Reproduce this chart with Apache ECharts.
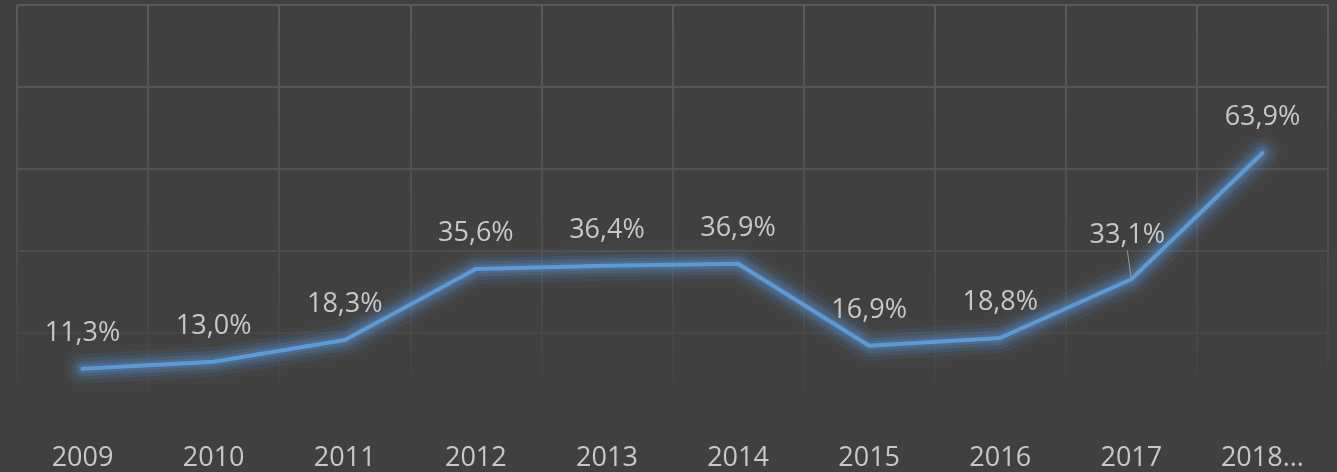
<!DOCTYPE html>
<html lang="en">
<head>
    <meta charset="UTF-8">
    <title>Chart</title>
    <script src="https://cdn.jsdelivr.net/npm/echarts@6/dist/echarts.min.js"></script>
    <style>
        html, body { margin: 0; padding: 0; background: #404040; }
        #chartmain { width: 1337px; height: 472px; }
    </style>
</head>
<body>
<div id="chartmain"></div>
<script type="text/javascript">
    // categories and values
    var years = ['2009', '2010', '2011', '2012', '2013', '2014', '2015', '2016', '2017', '2018...'];
    var shares = [11.3, 13.0, 18.3, 35.6, 36.4, 36.9, 16.9, 18.8, 33.1, 63.9];
    var yTicks = [0, 20, 40, 60, 80, 100];
    var movedLabel = 8; // 33,1% sits a bit off its point, with a leader line

    var myChart = echarts.init(document.getElementById('chartmain'));

    // grid lines fade out toward the bottom of the plot
    var fade = new echarts.graphic.LinearGradient(0, 5, 0, 415, [
        {offset: 0, color: '#5a5a5a'},
        {offset: 0.6, color: '#4c4c4c'},
        {offset: 1, color: '#404040'}
    ], true);

    var seriesData = shares.map(function (v, i) {
        if (i === movedLabel) {
            return {value: v, labelLine: {show: true}};
        }
        return v;
    });

    // glow: a few wide, faint strokes under the line
    var glowLayers = [[30, 0.09], [22, 0.12], [15, 0.15], [9, 0.2]];
    var series = glowLayers.map(function (g) {
        return {
            type: 'line',
            data: shares,
            silent: true,
            symbol: 'none',
            lineStyle: {
                color: 'rgba(91,155,213,' + g[1] + ')',
                width: g[0],
                cap: 'round',
                join: 'round',
                shadowColor: 'rgba(91,155,213,' + g[1] + ')',
                shadowBlur: 8
            },
            z: 1
        };
    });

    series.push({
        type: 'line',
        data: seriesData,
        symbol: 'circle',
        symbolSize: 1,
        lineStyle: {
            color: '#5b9bd5',
            width: 4,
            cap: 'round'
        },
        itemStyle: {color: '#5b9bd5'},
        label: {
            show: true,
            position: 'top',
            distance: 20,
            color: '#c8c8c8',
            fontSize: 27,
            lineHeight: 30,
            formatter: function (p) {
                return p.value.toFixed(1).replace('.', ',') + '%';
            }
        },
        labelLine: {show: false, length2: 0, lineStyle: {color: '#9a9a9a', width: 1}},
        labelLayout: function (params) {
            if (params.dataIndex === movedLabel) {
                return {dx: -4, dy: -8};
            }
            return {};
        },
        z: 2
    });

    var option = {
        backgroundColor: '#404040',
        animation: false,
        textStyle: {fontFamily: 'Open Sans'},
        grid: {left: 17, right: 9, top: 5, bottom: 57},
        xAxis: {
            type: 'category',
            data: years,
            boundaryGap: true,
            axisLine: {show: false},
            axisTick: {show: false},
            axisLabel: {color: '#c8c8c8', fontSize: 27, margin: 30, interval: 0},
            splitLine: {show: true, lineStyle: {color: fade, width: 2}}
        },
        yAxis: {
            type: 'value',
            min: yTicks[0],
            max: yTicks[yTicks.length - 1],
            interval: 20,
            axisLabel: {show: false},
            axisLine: {show: false},
            axisTick: {show: false},
            splitLine: {lineStyle: {color: fade, width: 2}}
        },
        series: series
    };
    myChart.setOption(option);
</script>
</body>
</html>
